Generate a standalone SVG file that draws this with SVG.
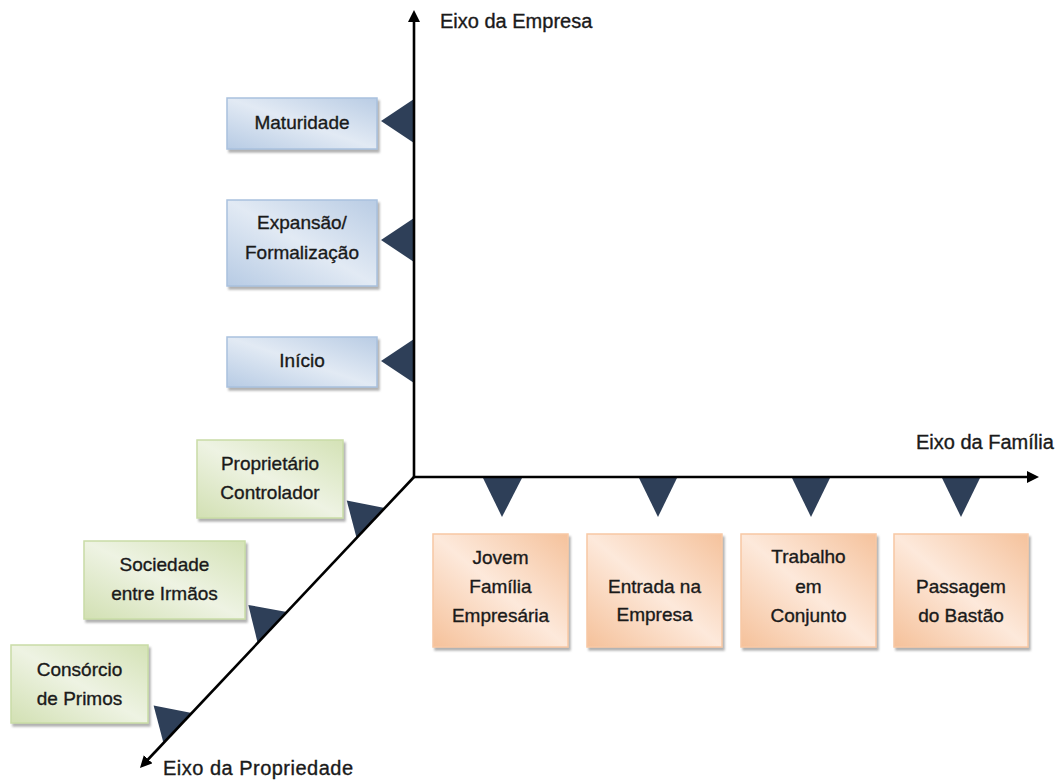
<svg xmlns="http://www.w3.org/2000/svg" width="1058" height="783" viewBox="0 0 1058 783">
<defs>
<linearGradient id="gBlue" x1="0" y1="1" x2="1" y2="0">
<stop offset="0" stop-color="#b7cbe4"/>
<stop offset="0.5" stop-color="#e2eaf4"/>
<stop offset="1" stop-color="#b9cce4"/>
</linearGradient>
<linearGradient id="gGreen" x1="0" y1="1" x2="1" y2="0">
<stop offset="0" stop-color="#d2e0b3"/>
<stop offset="0.5" stop-color="#eef3e3"/>
<stop offset="1" stop-color="#d4e2b6"/>
</linearGradient>
<linearGradient id="gOrange" x1="0" y1="1" x2="1" y2="0">
<stop offset="0" stop-color="#f5c19a"/>
<stop offset="0.5" stop-color="#fde9db"/>
<stop offset="1" stop-color="#f5c29c"/>
</linearGradient>
<filter id="sh" x="-10%" y="-10%" width="130%" height="130%">
<feDropShadow dx="2" dy="3" stdDeviation="1.2" flood-color="#7f7f7f" flood-opacity="0.6"/>
</filter>
<marker id="arr" viewBox="0 0 12 12" markerWidth="12" markerHeight="12" refX="1" refY="6" orient="auto" markerUnits="userSpaceOnUse">
<path d="M0,0 L12,6 L0,12 z" fill="#000"/>
</marker>
</defs>
<style>
.blue{fill:url(#gBlue);stroke:#a9c1de;stroke-width:1.5;filter:url(#sh)}
.green{fill:url(#gGreen);stroke:#c9dca6;stroke-width:1.5;filter:url(#sh)}
.orange{fill:url(#gOrange);stroke:#f8c8a4;stroke-width:1.5;filter:url(#sh)}
.t{font-family:"Liberation Sans",Arial,sans-serif;font-size:19px;fill:#1a1a1a;stroke:#1a1a1a;stroke-width:0.35;text-anchor:middle}
.ax{font-family:"Liberation Sans",Arial,sans-serif;font-size:20px;fill:#1a1a1a;stroke:#1a1a1a;stroke-width:0.35}
.ptr{fill:#2e3f58}
.axis{stroke:#000;stroke-width:2.6;fill:none;marker-end:url(#arr)}
</style>
<rect width="1058" height="783" fill="#fff"/>

<g id="connectors">
<polygon class="ptr" points="381,121 414,99 414,143"/>
<polygon class="ptr" points="381,240 414,218 414,262"/>
<polygon class="ptr" points="381,361 414,339 414,383"/>
<polygon class="ptr" points="483,478 522,478 502,517"/>
<polygon class="ptr" points="639,478 677,478 658,517"/>
<polygon class="ptr" points="792,478 830,478 811,517"/>
<polygon class="ptr" points="942,478 980,478 961,517"/>
<polygon class="ptr" points="346.7,500.4 384.8,508 356.6,538"/>
<polygon class="ptr" points="248.3,604.9 286.9,612 257.7,643"/>
<polygon class="ptr" points="153.6,705.4 191.8,713 163.5,743"/>
<line class="axis" x1="414" y1="478" x2="414" y2="21"/>
<line class="axis" x1="413" y1="477" x2="1028" y2="477"/>
<line class="axis" x1="414" y1="477" x2="147.5" y2="760"/>
</g>

<g id="axis-labels">
<text class="ax" x="440" y="28">Eixo da Empresa</text>
<text class="ax" x="916" y="449">Eixo da Família</text>
<text class="ax" x="163" y="775" textLength="190" lengthAdjust="spacing">Eixo da Propriedade</text>
</g>

<g id="maturidade">
<rect class="blue" x="227" y="98" width="150" height="51"/>
<text class="t" x="302" y="129">Maturidade</text>
</g>
<g id="expansao">
<rect class="blue" x="227" y="200" width="150" height="86"/>
<text class="t" x="302" y="229">Expansão/</text>
<text class="t" x="302" y="259">Formalização</text>
</g>
<g id="inicio">
<rect class="blue" x="227" y="337" width="150" height="50"/>
<text class="t" x="302" y="367">Início</text>
</g>

<g id="proprietario">
<rect class="green" x="197" y="440" width="146" height="78"/>
<text class="t" x="270" y="470">Proprietário</text>
<text class="t" x="270" y="499">Controlador</text>
</g>
<g id="sociedade">
<rect class="green" x="84" y="541" width="161" height="78"/>
<text class="t" x="164.5" y="571">Sociedade</text>
<text class="t" x="164.5" y="600">entre Irmãos</text>
</g>
<g id="consorcio">
<rect class="green" x="11" y="645" width="137" height="78"/>
<text class="t" x="79.5" y="676">Consórcio</text>
<text class="t" x="79.5" y="705">de Primos</text>
</g>

<g id="jovem">
<rect class="orange" x="433" y="534" width="135" height="113"/>
<text class="t" x="500.5" y="564">Jovem</text>
<text class="t" x="500.5" y="593">Família</text>
<text class="t" x="500.5" y="622">Empresária</text>
</g>
<g id="entrada">
<rect class="orange" x="587" y="534" width="135" height="113"/>
<text class="t" x="654.5" y="593">Entrada na</text>
<text class="t" x="654.5" y="621">Empresa</text>
</g>
<g id="trabalho">
<rect class="orange" x="741" y="534" width="135" height="113"/>
<text class="t" x="808.5" y="563">Trabalho</text>
<text class="t" x="808.5" y="593">em</text>
<text class="t" x="808.5" y="622">Conjunto</text>
</g>
<g id="passagem">
<rect class="orange" x="894" y="534" width="134" height="113"/>
<text class="t" x="961" y="593">Passagem</text>
<text class="t" x="961" y="622">do Bastão</text>
</g>
</svg>
